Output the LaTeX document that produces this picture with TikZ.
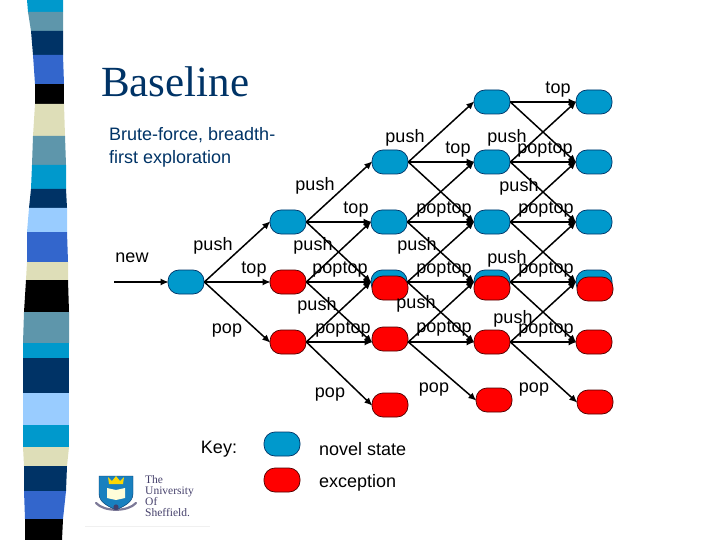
\documentclass[tikz,border=0pt]{standalone}
\usepackage{fontspec}
\setmainfont{Liberation Sans}
\newfontfamily\titlefont{Liberation Serif}
\usetikzlibrary{arrows.meta}
\definecolor{StateClr}{rgb}{0.0,0.6,0.8}
\definecolor{ExcClr}{rgb}{1,0,0}
\definecolor{NavyClr}{rgb}{0,0.2,0.4}
\definecolor{RoyalClr}{rgb}{0.2,0.4,0.8}
\definecolor{TealClr}{rgb}{0.37,0.59,0.67}
\definecolor{PaleClr}{rgb}{0.6,0.8,1}
\definecolor{BeigeClr}{rgb}{0.87,0.87,0.72}
\definecolor{CrestClr}{rgb}{0.1,0.5,0.75}
\definecolor{LogoClr}{rgb}{0.27,0.25,0.42}

\begin{document}
\begin{tikzpicture}[x=1pt,y=-1pt,
  novel/.style={draw=NavyClr,line width=.7pt,fill=StateClr,rounded corners=11pt,minimum width=36pt,minimum height=24pt,inner sep=0pt},
  exc/.style={draw=black!70!red,line width=.7pt,fill=ExcClr,rounded corners=11pt,minimum width=36pt,minimum height=24pt,inner sep=0pt},
  trans/.style={-{Latex[length=8pt,width=7pt]},line width=1.5pt,shorten >=-1pt},
  lbl/.style={font=\fontsize{18}{22}\selectfont,inner sep=0pt,yshift=-2.5pt}]
\useasboundingbox (0,0) rectangle (720,540);

\foreach \ya/\la/\ra/\yb/\lb/\rb/\clr in {0/27/63/12/28/63/StateClr,12/28/63/31/31/63/TealClr,31/31/63/55/33/63/NavyClr,55/33/63/84/35/64/RoyalClr,84/35/64/104/35/64/black,104/35/64/136/33/65/BeigeClr,136/33/65/165/32/66/TealClr,165/32/66/189/31/66/StateClr,189/31/66/208/29/67/NavyClr,208/29/67/232/27/67/PaleClr,232/27/67/262/27/68/RoyalClr,262/27/68/280/26/68/BeigeClr,280/26/68/312/24/69/black,312/24/69/343/23/69/TealClr,343/23/69/358/23/69/StateClr,358/23/69/393/23/69/NavyClr,393/23/69/425/23/69/PaleClr,425/23/69/447/23/69/StateClr,447/23/69/466/24/67/BeigeClr,466/24/67/491/24/66/NavyClr,491/24/66/519/25/63/RoyalClr,519/25/63/540/25/62/black}
  \fill[\clr] (\la,\ya) -- (\ra,\ya) -- (\rb,\yb) -- (\lb,\yb) -- cycle;

\node[font=\titlefont\fontsize{43}{43}\selectfont,text=NavyClr,anchor=base west,inner sep=0pt] (Title) at (101,97) {Baseline};
\node[font=\fontsize{18}{23}\selectfont,text=NavyClr,anchor=north west,align=left,inner sep=0pt] (Sub) at (109,127) {Brute-force, breadth-\\first exploration};

\node[novel] (S0) at (186,282) {};

\node[novel] (S1a) at (288,222) {};
\node[exc] (S1b) at (288,282) {};
\node[exc] (S1c) at (288,342) {};

\node[novel] (S2a) at (390,162) {};
\node[novel] (S2b) at (389,222) {};
\node[novel] (S2c) at (389,282) {};
\node[exc] (S2x) at (390,288) {};
\node[exc] (S2d) at (390,339) {};
\node[exc] (S2e) at (390,405) {};

\node[novel] (S3a) at (492,102) {};
\node[novel] (S3b) at (492,162) {};
\node[novel] (S3c) at (492,222) {};
\node[novel] (S3d) at (492,282) {};
\node[exc] (S3x) at (492,288) {};
\node[exc] (S3e) at (492,342) {};
\node[exc] (S3f) at (494,400) {};

\node[novel] (S4a) at (594,102) {};
\node[novel] (S4b) at (594,162) {};
\node[novel] (S4c) at (594,222) {};
\node[novel] (S4d) at (594,282) {};
\node[exc] (S4x) at (595,289) {};
\node[exc] (S4e) at (594,342) {};
\node[exc] (S4f) at (595,402) {};

\coordinate (Start) at (114,282);
\draw[trans] (Start) -- (S0.west);

\foreach \from/\to in {S0/S1a,S0/S1b,S0/S1c,
  S1a/S2a,S1a/S2b,S1a/S2c,S1b/S2b,S1b/S2c,S1c/S2c,S1c/S2e,
  S2a/S3a,S2a/S3b,S2a/S3c,S2b/S3b,S2b/S3c,S2b/S3d,S2c/S3c,S2c/S3d,S2c/S3e,
  S3a/S4a,S3a/S4b,S3b/S4a,S3b/S4b,S3b/S4c,S3c/S4b,S3c/S4c,S3c/S4d,S3d/S4c,S3d/S4d,S3d/S4e,S3e/S4d,S3e/S4e,S3e/S4f}
  \draw[trans] (\from.east) -- (\to.west);

\draw[trans] (S1b.east) -- ([yshift=-3pt]S2d.west);
\draw[trans] (S1c.east) -- ([yshift=-3pt]S2d.west);
\draw[trans] ([yshift=-3pt]S2d.east) -- (S3d.west);
\draw[trans] ([yshift=-3pt]S2d.east) -- (S3e.west);
\draw[trans] ([yshift=-3pt]S2d.east) -- (S3f.west);

\node[lbl] (Lnew) at (132,255) {new};
\node[lbl] (Lpush1) at (213,243) {push};
\node[lbl] (Ltop1) at (254,267) {top};
\node[lbl] (Lpop1) at (227,328) {pop};

\node[lbl] (Lpush2) at (315,183) {push};
\node[lbl] (Ltop2) at (356,207) {top};
\node[lbl] (Lpush3) at (313,243) {push};
\node[lbl] (Lpoptop1) at (340,267) {poptop};
\node[lbl] (Lpush4) at (317,303) {push};
\node[lbl] (Lpoptop2) at (343,327) {poptop};
\node[lbl] (Lpop2) at (330,392) {pop};

\node[lbl] (Lpush5) at (405,135) {push};
\node[lbl] (Ltop3) at (458,147) {top};
\node[lbl] (Lpoptop3) at (444,207) {poptop};
\node[lbl] (Lpush6) at (417,243) {push};
\node[lbl] (Lpoptop4) at (444,267) {poptop};
\node[lbl] (Lpush7) at (416,301) {push};
\node[lbl] (Lpoptop5) at (444,326) {poptop};
\node[lbl] (Lpop3) at (434,387) {pop};

\node[lbl] (Ltop4) at (558,87) {top};
\node[lbl] (Lpush8) at (507,135) {push};
\node[lbl] (Lpoptop6) at (545,147) {poptop};
\node[lbl] (Lpush9) at (519,184) {push};
\node[lbl] (Lpoptop7) at (546,207) {poptop};
\node[lbl] (Lpush10) at (507,256) {push};
\node[lbl] (Lpoptop8) at (546,267) {poptop};
\node[lbl] (Lpush11) at (513,316) {push};
\node[lbl] (Lpoptop9) at (546,327) {poptop};
\node[lbl] (Lpop4) at (534,387) {pop};

\node[lbl] (Lkey) at (219,447) {Key:};
\node[novel] (KeyNovel) at (282,444) {};
\node[exc] (KeyExc) at (282,480) {};
\node[lbl,anchor=west] (Lnovel) at (319,447) {novel state};
\node[lbl,anchor=west] (Lexc) at (319,480) {exception};

\fill[CrestClr,draw=NavyClr,line width=.4pt] (99,476) -- (133,476) -- (133,494) .. controls (133,503) and (122,507) .. (116,510) .. controls (110,507) and (99,503) .. (99,494) -- cycle;
\fill[white!85!yellow] (107,488) -- (116,490) -- (125,488) -- (125,498) -- (116,500) -- (107,498) -- cycle;
\fill[yellow!75!orange] (109,484) -- (108,477) -- (112,481) -- (116,476) -- (120,481) -- (124,477) -- (123,484) -- cycle;
\draw[LogoClr,line width=2.2pt,line cap=round,opacity=.7] (96,503) .. controls (104,512) and (128,512) .. (136,503);
\fill[LogoClr] (116,507) circle (2.6pt);

\node[font=\titlefont\fontsize{11.5}{11}\selectfont,text=LogoClr,anchor=north west,align=left,inner sep=0pt] (Logo) at (145,475) {The\\University\\Of\\Sheffield.};
\draw[black!6,line width=.5pt] (85,526) -- (210,526);

\end{tikzpicture}
\end{document}
